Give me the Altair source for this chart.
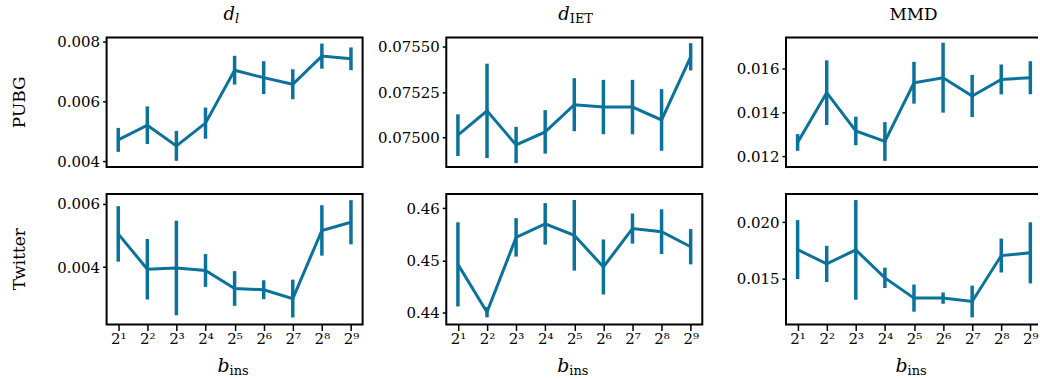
import json
import altair as alt
import pandas as pd

# ---------------- data ----------------
x_idx = [1, 2, 3, 4, 5, 6, 7, 8, 9]
x_labels = ["2¹", "2²", "2³", "2⁴", "2⁵", "2⁶", "2⁷", "2⁸", "2⁹"]

pubg_dl = [0.00472, 0.00521, 0.00452, 0.00528, 0.00705, 0.00680, 0.00658, 0.00752, 0.00743]
pubg_dl_err = [0.00040, 0.00063, 0.00050, 0.00052, 0.00048, 0.00055, 0.00050, 0.00042, 0.00038]

pubg_diet = [0.075013, 0.075147, 0.074959, 0.075031, 0.075181, 0.075168, 0.075168, 0.075097, 0.075445]
pubg_diet_err = [0.000115, 0.000260, 0.000100, 0.000120, 0.000146, 0.000150, 0.000150, 0.000170, 0.000075]

pubg_mmd = [0.012635, 0.01490, 0.01316, 0.01268, 0.01535, 0.01558, 0.01475, 0.01550, 0.01558]
pubg_mmd_err = [0.00038, 0.00147, 0.00065, 0.00088, 0.00095, 0.00159, 0.00096, 0.00068, 0.00075]

twitter_dl = [0.00505, 0.00393, 0.00397, 0.00389, 0.00332, 0.00328, 0.00300, 0.00516, 0.00542]
twitter_dl_err = [0.00088, 0.00096, 0.00150, 0.00052, 0.00055, 0.00030, 0.00060, 0.00080, 0.00070]

twitter_diet = [0.4492, 0.4400, 0.4544, 0.4570, 0.4548, 0.4487, 0.4561, 0.4555, 0.4526]
twitter_diet_err = [0.0081, 0.0010, 0.0037, 0.0040, 0.0068, 0.0053, 0.0029, 0.0043, 0.0034]

twitter_mmd = [0.01759, 0.01632, 0.01756, 0.01509, 0.01330, 0.01330, 0.01300, 0.01706, 0.01730]
twitter_mmd_err = [0.0026, 0.0016, 0.0044, 0.0009, 0.0012, 0.0005, 0.0014, 0.0015, 0.0027]

row_names = ["PUBG", "Twitter"]

# ---------------- styling ----------------
COLOR = "#0b729c"
SERIF = "DejaVu Serif"
STEP = 257 / 8.8  # pixels per x unit
WIDTHS = [257, 257, 254]
HEIGHTS = [130, 131]


def one_row(text):
    return pd.DataFrame({"t": [text]})


def txt(text, x, y, size, style="normal", align="center", angle=0, baseline="alphabetic"):
    kw = dict(font=SERIF, fontSize=size, fontStyle=style, align=align,
              baseline=baseline, color="black")
    if angle:
        kw["angle"] = angle
    return alt.Chart(one_row(text)).mark_text(**kw).encode(
        x=alt.value(x), y=alt.value(y), text="t:N"
    )


def panel(vals, errs, ydom, yticks, yfmt, row, col, title_parts):
    W, H = WIDTHS[col], HEIGHTS[row]
    df = pd.DataFrame({
        "x": x_idx,
        "y": vals,
        "lo": [v - e for v, e in zip(vals, errs)],
        "hi": [v + e for v, e in zip(vals, errs)],
    })
    xscale = alt.Scale(domain=[0.6, 0.6 + W / STEP], nice=False, zero=False)
    if row == 1:
        xaxis = alt.Axis(
            values=x_idx,
            labelExpr=json.dumps(x_labels, ensure_ascii=False) + "[datum.value - 1]",
            tickSize=6, tickWidth=1.5, tickColor="black", domain=False, grid=False,
            labelFont=SERIF, labelFontSize=15, labelColor="black", labelPadding=1,
            title=None,
        )
    else:
        xaxis = None
    yscale = alt.Scale(domain=ydom, nice=False, zero=False)
    yaxis = alt.Axis(
        values=yticks, format=yfmt, tickSize=4, tickWidth=1.5, tickColor="black",
        domain=False, grid=False, labelFont=SERIF, labelFontSize=15,
        labelColor="black", labelPadding=3, title=None,
    )
    base = alt.Chart(df)
    bars = base.mark_rule(color=COLOR, strokeWidth=3.5).encode(
        x=alt.X("x:Q", scale=xscale, axis=xaxis),
        y=alt.Y("lo:Q", scale=yscale, axis=yaxis),
        y2="hi:Q",
    )
    line = base.mark_line(color=COLOR, strokeWidth=3).encode(
        x=alt.X("x:Q", scale=xscale, axis=xaxis),
        y=alt.Y("y:Q", scale=yscale, axis=yaxis),
    )
    layers = [bars, line]

    if row == 0:
        layers += title_parts(W)
    if col == 0:
        layers.append(txt(row_names[row], -87, H / 2, 17, angle=270, baseline="middle"))
    if row == 1:
        cx = W / 2 - 1
        layers.append(txt("b", cx - 4, H + 48, 19, style="italic", align="right"))
        layers.append(txt("ins", cx - 4, H + 51, 13, align="left"))

    props = dict(width=W, height=H)
    if col == 2:
        fr = alt.Chart(one_row("")).mark_rule(color="black", strokeWidth=2)
        layers.append(fr.encode(x=alt.value(0), x2=alt.value(W - 1), y=alt.value(0)))
        layers.append(fr.encode(x=alt.value(0), x2=alt.value(W - 1), y=alt.value(H)))
        layers.append(fr.encode(x=alt.value(0), y=alt.value(-1), y2=alt.value(H + 1)))
        props["view"] = alt.ViewBackground(stroke="transparent")
    return alt.layer(*layers).properties(**props)


def title_dl(W):
    cx = W / 2
    return [txt("d", cx + 0.5, -18, 18, style="italic", align="right"),
            txt("l", cx + 0.5, -15, 13, style="italic", align="left")]


def title_diet(W):
    cx = W / 2
    return [txt("d", cx - 4.5, -18, 18, style="italic", align="right"),
            txt("IET", cx - 4.5, -15, 13, align="left")]


def title_mmd(W):
    return [txt("MMD", 128, -18, 17)]


panels = [
    panel(pubg_dl, pubg_dl_err, [0.00381, 0.00814], [0.004, 0.006, 0.008], ".3f", 0, 0, title_dl),
    panel(pubg_diet, pubg_diet_err, [0.074837, 0.075551], [0.075, 0.07525, 0.0755], ".5f", 0, 1, title_diet),
    panel(pubg_mmd, pubg_mmd_err, [0.011516, 0.017404], [0.012, 0.014, 0.016], ".3f", 0, 2, title_mmd),
    panel(twitter_dl, twitter_dl_err, [0.002178, 0.006316], [0.004, 0.006], ".3f", 1, 0, title_dl),
    panel(twitter_diet, twitter_diet_err, [0.437628, 0.462756], [0.44, 0.45, 0.46], ".2f", 1, 1, title_diet),
    panel(twitter_mmd, twitter_mmd_err, [0.01097, 0.0225], [0.015, 0.020], ".3f", 1, 2, title_mmd),
]

chart = alt.concat(*panels, columns=3).properties(
    spacing={"row": 27, "column": 84},
    bounds="flush",
    background="white",
    padding={"left": 10, "top": 4, "right": 0, "bottom": 0},
).configure_view(
    stroke="black", strokeWidth=2
).configure_axis(
    labelFont=SERIF, labelColor="black"
).configure_text(font=SERIF)

chart.save("out.html", embed_options={"renderer": "svg", "actions": False})
